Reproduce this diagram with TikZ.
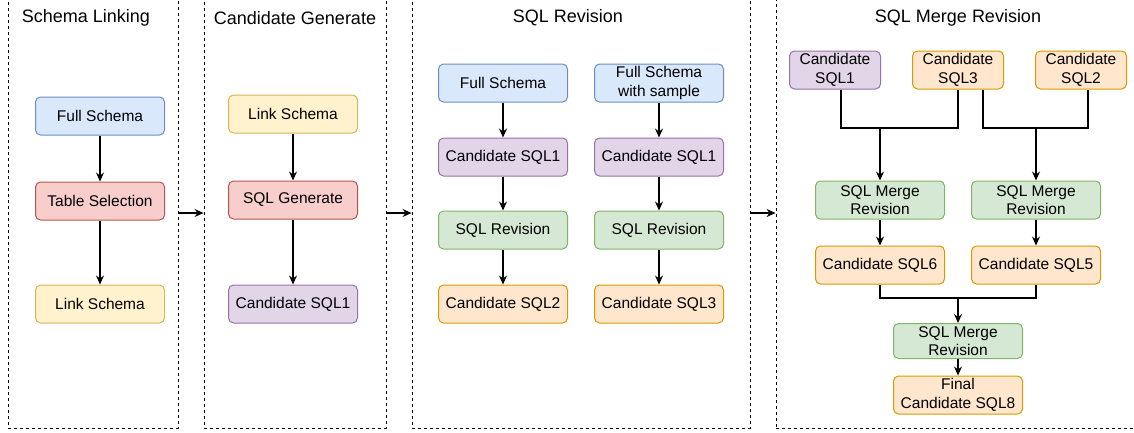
\documentclass[tikz,border=0pt]{standalone}
\usepackage{fontspec}
\setmainfont{Liberation Sans}
\usetikzlibrary{arrows.meta}

\definecolor{bluefill}{HTML}{DAE8FC}\definecolor{bluedraw}{HTML}{6C8EBF}
\definecolor{redfill}{HTML}{F8CECC}\definecolor{reddraw}{HTML}{B85450}
\definecolor{yelfill}{HTML}{FFF2CC}\definecolor{yeldraw}{HTML}{D6B656}
\definecolor{purfill}{HTML}{E1D5E7}\definecolor{purdraw}{HTML}{9673A6}
\definecolor{grnfill}{HTML}{D5E8D4}\definecolor{grndraw}{HTML}{82B366}
\definecolor{orgfill}{HTML}{FFE6CC}\definecolor{orgdraw}{HTML}{D79B00}

\begin{document}
\begin{tikzpicture}[x=1pt,y=-1pt,>={Stealth[length=9pt,width=8pt,inset=3pt]}]
    \tikzstyle{every node}=[font=\fontsize{15.5}{18.5}\selectfont]
    \tikzstyle{panel}=[draw,line width=0.9pt,dash pattern=on 3pt off 3pt,minimum height=430pt,inner sep=0pt]
    \tikzstyle{title}=[font=\fontsize{18}{20}\selectfont]
    \tikzstyle{box}=[draw,rounded corners=5pt,line width=1pt,minimum width=129pt,minimum height=38pt,inner sep=0pt,align=center]
    \tikzstyle{bluebox}=[box,fill=bluefill,draw=bluedraw]
    \tikzstyle{redbox}=[box,fill=redfill,draw=reddraw]
    \tikzstyle{yelbox}=[box,fill=yelfill,draw=yeldraw]
    \tikzstyle{purbox}=[box,fill=purfill,draw=purdraw]
    \tikzstyle{grnbox}=[box,fill=grnfill,draw=grndraw]
    \tikzstyle{orgbox}=[box,fill=orgfill,draw=orgdraw]
    \tikzstyle{flow}=[->,line width=1.1pt]

    \useasboundingbox (0,0) rectangle (1134,432);
    \clip (0,0) rectangle (1134,432);

    % panels
    \node[panel,minimum width=170pt] (pnl1) at (93,213) {};
    \node[panel,minimum width=182pt] (pnl2) at (295,213) {};
    \node[panel,minimum width=338pt] (pnl3) at (581,213) {};
    \node[panel,minimum width=364pt] (pnl4) at (958,213) {};

    \node[title] (tt1) at (86,18) {Schema Linking};
    \node[title] (tt2) at (295,18) {Candidate Generate};
    \node[title] (tt3) at (568,18) {SQL Revision};
    \node[title] (tt4) at (958,18) {SQL Merge Revision};

    \draw[flow] (pnl1.east) -- (pnl2.west);
    \draw[flow] (pnl2.east) -- (pnl3.west);
    \draw[flow] (pnl3.east) -- (pnl4.west);

    % schema linking
    \node[bluebox] (fullA) at (100,116) {Full Schema};
    \node[redbox] (tabsel) at (100,201) {Table Selection};
    \node[yelbox] (linkA) at (100,304) {Link Schema};
    \draw[flow] (fullA) -- (tabsel);
    \draw[flow] (tabsel) -- (linkA);

    % candidate generate
    \node[yelbox] (linkB) at (293,114) {Link Schema};
    \node[redbox] (sqlgen) at (293,200) {SQL Generate};
    \node[purbox] (candA) at (293,304) {Candidate SQL1};
    \draw[flow] (linkB) -- (sqlgen);
    \draw[flow] (sqlgen) -- (candA);

    % sql revision
    \node[bluebox] (fullB) at (503,83) {Full Schema};
    \node[purbox] (candB) at (503,157) {Candidate SQL1};
    \node[grnbox] (revA) at (503,230) {SQL Revision};
    \node[orgbox] (sql2) at (503,304) {Candidate SQL2};
    \draw[flow] (fullB) -- (candB);
    \draw[flow] (candB) -- (revA);
    \draw[flow] (revA) -- (sql2);

    \node[bluebox] (fullC) at (659,83) {Full Schema\\with sample};
    \node[purbox] (candC) at (659,157) {Candidate SQL1};
    \node[grnbox] (revB) at (659,230) {SQL Revision};
    \node[orgbox] (sql3) at (659,304) {Candidate SQL3};
    \draw[flow] (fullC) -- (candC);
    \draw[flow] (candC) -- (revB);
    \draw[flow] (revB) -- (sql3);

    % sql merge revision
    \node[purbox,minimum width=91pt] (mc1) at (835,70) {Candidate\\SQL1};
    \node[orgbox,minimum width=91pt] (mc3) at (958,70) {Candidate\\SQL3};
    \node[orgbox,minimum width=91pt] (mc2) at (1081,70) {Candidate\\SQL2};

    \node[grnbox] (mrgA) at (880,200) {SQL Merge\\Revision};
    \node[grnbox] (mrgB) at (1036,200) {SQL Merge\\Revision};
    \node[orgbox] (sql6) at (880,265) {Candidate SQL6};
    \node[orgbox] (sql5) at (1036,265) {Candidate SQL5};
    \node[grnbox,minimum height=35pt] (mrgC) at (958,341) {SQL Merge\\Revision};
    \node[orgbox] (sql8) at (958,395) {Final\\Candidate SQL8};

    \coordinate (jnA) at (880,128);
    \coordinate (jnB) at (1036,128);
    \coordinate (jnC) at (958,298);

    \draw[line width=1.1pt] ([xshift=6pt]mc1.south) |- (jnA);
    \draw[line width=1.1pt] (mc3.south) |- (jnA);
    \draw[flow] (jnA) -- (mrgA);
    \draw[line width=1.1pt] ([xshift=25pt]mc3.south) |- (jnB);
    \draw[line width=1.1pt] ([xshift=7pt]mc2.south) |- (jnB);
    \draw[flow] (jnB) -- (mrgB);
    \draw[flow] (mrgA) -- (sql6);
    \draw[flow] (mrgB) -- (sql5);
    \draw[line width=1.1pt] (sql6.south) |- (jnC);
    \draw[line width=1.1pt] (sql5.south) |- (jnC);
    \draw[flow] (jnC) -- (mrgC);
    \draw[flow] (mrgC) -- (sql8);
\end{tikzpicture}
\end{document}
